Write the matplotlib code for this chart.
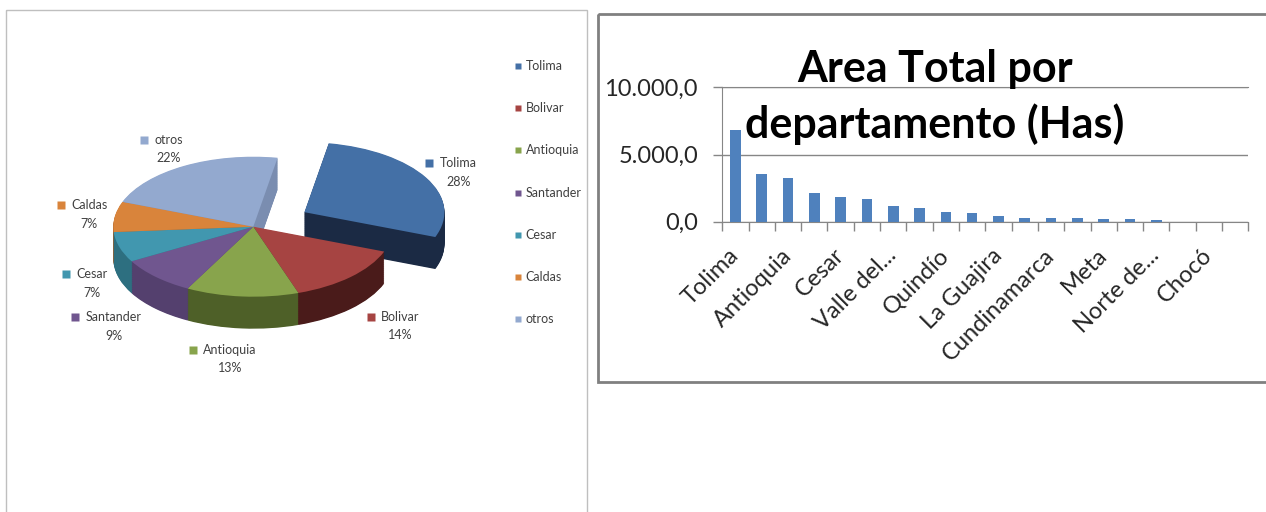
import numpy as np
import matplotlib
matplotlib.use('Agg')
import matplotlib.pyplot as plt
from matplotlib.transforms import Affine2D
from matplotlib.patches import Rectangle
from matplotlib.ticker import FuncFormatter

plt.rcParams['font.family'] = ['Lato', 'DejaVu Sans']

# ---- pie data (share of area, %)
pie_labels = ['Tolima', 'Bolivar', 'Antioquia', 'Santander', 'Cesar', 'Caldas', 'otros']
pie_pct = [28, 14, 13, 9, 7, 7, 22]
pie_top = ['#4470A6', '#A64442', '#88A44C', '#70568F', '#4197AF', '#D9843B', '#93A9CF']
pie_side = ['#1B2A44', '#4A1B1A', '#4E6028', '#54406E', '#2D6F80', '#A5612B', '#7A8DB0']

# ---- bar data (Has)
departamentos = ['Tolima', 'Bolivar', 'Antioquia', 'Santander', 'Cesar', 'Caldas',
                 'Valle del...', '', 'Quindío', '', 'La Guajira', '', 'Cundinamarca', '',
                 'Meta', '', 'Norte de...', '', 'Chocó', '']
area_has = [6830, 3530, 3230, 2160, 1820, 1690, 1190, 1020, 745, 625,
            425, 250, 250, 280, 170, 170, 160, 0, 0, 0]

W, H = 1266, 512
fig = plt.figure(figsize=(W / 100, H / 100), dpi=100)

# overlay axes in pixel coordinates (frames, labels, legend)
ov = fig.add_axes([0, 0, 1, 1], zorder=5)
ov.set_xlim(0, W)
ov.set_ylim(H, 0)
ov.axis('off')
ov.patch.set_alpha(0)

# ---------------- 3D-looking pie ----------------
R = 140.0
cx, cy = 253.3, 226.7
squash = 0.5
depth = 32 / R
n_layers = 48
explode = [0.42, 0, 0, 0, 0, 0, 0]

pa = fig.add_axes([0, 0, 1, 1], zorder=1)
for k in range(n_layers, -1, -1):
    off = depth * k / n_layers
    cols = pie_side if k > 0 else pie_top
    wedges, _ = pa.pie(pie_pct, colors=cols, startangle=80, counterclock=False,
                       explode=explode, wedgeprops=dict(linewidth=0))
    tr = Affine2D().scale(1, squash).translate(0, -off) + pa.transData
    for i, w in enumerate(wedges):
        w.set_transform(tr)
        base = 1 if i == 0 else 2
        w.set_zorder(base + (n_layers - k) * 0.001 + (0.5 if k == 0 else 0))
pa.set_aspect('auto')
pa.set_xlim(-cx / R, (W - cx) / R)
pa.set_ylim(-(H - cy) / R, cy / R)
pa.axis('off')
pa.patch.set_alpha(0)

# data labels around the pie
label_pos = [(458.3, 163.3), (400.3, 316.7), (230, 350), (113.8, 317.3),
             (92, 274.3), (89.2, 205), (169, 140)]
name_texts = []
for lab, pct, (lx, ly) in zip(pie_labels, pie_pct, label_pos):
    t = ov.text(lx, ly, lab, ha='center', va='center', fontsize=9, color='#404040')
    ov.text(lx, ly + 18.5, f'{pct}%', ha='center', va='center', fontsize=9, color='#404040')
    name_texts.append(t)

# legend
for i, (lab, c) in enumerate(zip(pie_labels, pie_top)):
    y = 66 + 42.2 * i
    ov.plot(518.3, y, marker='s', ms=4.8, color=c, mec='none')
    ov.text(525.5, y, lab, ha='left', va='center', fontsize=9, color='#404040')

# frames
ov.add_patch(Rectangle((5.7, 10), 581.3, 515, fill=False, ec='#BFBFBF', lw=1))
ov.add_patch(Rectangle((597.7, 14), 690, 367.7, fill=False, ec='#808080', lw=2))

# ---------------- bar chart ----------------
ba = fig.add_axes([722.3 / W, 1 - 221.7 / H, 526 / W, (221.7 - 87.3) / H], zorder=2)
x = np.arange(len(departamentos))
ba.bar(x, area_has, width=0.4, color='#4F81BD', zorder=3)
ba.set_xlim(-0.5, len(departamentos) - 0.5)
ba.set_ylim(0, 10000)
ba.set_yticks([0, 5000, 10000])
ba.yaxis.set_major_formatter(FuncFormatter(
    lambda v, p: f'{v:,.1f}'.replace(',', 'X').replace('.', ',').replace('X', '.')))
ba.grid(axis='y', color='#868686', lw=1)
ba.set_axisbelow(True)
ba.set_xticks(x[::2])
ba.set_xticklabels(departamentos[::2], rotation=45, ha='right', va='center',
                   rotation_mode='anchor', fontsize=17, color='#262626')
ba.set_xticks(np.arange(-0.5, len(departamentos)), minor=True)
ba.tick_params(axis='x', which='major', length=0, pad=22)
ba.tick_params(axis='x', which='minor', length=6.5, color='#868686', width=1)
ba.tick_params(axis='y', length=6.5, color='#868686', width=1, labelsize=17,
               labelcolor='#262626', pad=11)
ba.spines['right'].set_visible(False)
for s in ['left', 'bottom', 'top']:
    ba.spines[s].set_color('#868686')
ba.patch.set_alpha(0)

ov.text(935, 81.7, 'Area Total por', ha='center', va='baseline',
        fontsize=31, fontweight='bold', color='black')
ov.text(935, 138, 'departamento (Has)', ha='center', va='baseline',
        fontsize=31, fontweight='bold', color='black')

# square markers in front of the pie data labels
fig.canvas.draw()
inv = ov.transData.inverted()
for t, c in zip(name_texts, pie_top):
    bb = t.get_window_extent()
    x0, y0 = inv.transform((bb.x0, (bb.y0 + bb.y1) / 2))
    ov.plot(x0 - 10.5, y0, marker='s', ms=5.4, color=c, mec='none')

fig.savefig('out.png', dpi=100)
